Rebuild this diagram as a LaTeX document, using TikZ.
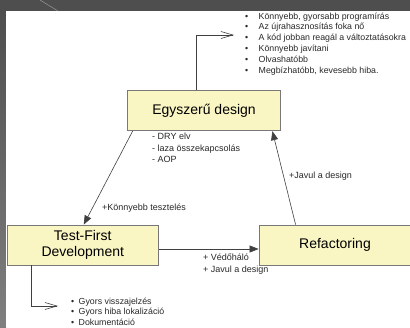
\documentclass[tikz,border=0pt]{standalone}
\usepackage{fontspec}
\setmainfont{Liberation Sans}
\usetikzlibrary{arrows.meta,calc}
\definecolor{boxfill}{RGB}{250,246,196}
\definecolor{boxline}{RGB}{120,120,120}
\definecolor{txt}{RGB}{40,40,40}
\definecolor{frametop}{RGB}{78,78,78}
\tikzset{
  boxnode/.style={draw=boxline, fill=boxfill, line width=0.8pt, inner sep=0pt, align=center, text=black, font=\fontsize{14}{16.5}\selectfont},
  lbl/.style={text=txt, inner sep=0pt, align=left, font=\fontsize{9}{11.5}\selectfont},
  listtxt/.style={text=txt, inner sep=0pt, align=left, font=\fontsize{8.8}{10.8}\selectfont},
  conn/.style={draw=black!75, line width=0.6pt},
  fillarr/.style={conn, -{Triangle[length=9pt,width=7pt]}},
  openarr/.style={conn, -{Straight Barb[length=12pt,width=7pt]}}
}
\begin{document}
\begin{tikzpicture}[x=1pt,y=-1pt]
\useasboundingbox (0,0) rectangle (410,327);
\begin{scope}
\clip (0,0) rectangle (410,327);
% frame
\fill[frametop] (0,0) rectangle (410,11);
\shade[top color=frametop, bottom color=black!50] (0,11) rectangle (6,327);
\fill[white] (6,11) rectangle (410,327);
\draw[black!40, line width=0.5pt] (40,0) -- (58,11);

% boxes
\node[boxnode, minimum width=153pt, minimum height=40.5pt] (ed) at (204,110.5) {Egyszerű design};
\node[boxnode, minimum width=151.5pt, minimum height=40pt] (tfd) at (82.75,245) {Test-First\\Development};
\node[boxnode, minimum width=152pt, minimum height=40pt] (ref) at (335,245) {Refactoring};

% free ends
\coordinate (topend) at (234,35);
\coordinate (botend) at (58,306);

% connectors
\draw[openarr] ($(ed.north)+(-7.5,0)$) |- (topend);
\draw[openarr] ($(tfd.south west)+(25,0)$) |- (botend);
\draw[fillarr] ($(ed.south west)+(5.5,0)$) -- ($(tfd.north)+(1,0)$);
\draw[fillarr] ($(ref.north west)+(37,0)$) -- ($(ed.south east)+(-8.5,0)$);
\draw[fillarr] ($(tfd.east)+(0,4)$) -- ($(ref.west)+(0,4)$);

% labels
\node[lbl, anchor=north west] (dry) at (152,133) {- DRY elv\\- laza összekapcsolás\\- AOP};
\node[lbl] (kt) at (144,208) {+Könnyebb tesztelés};
\node[lbl, anchor=west] (jd) at (289,176) {+Javul a design};
\node[lbl, anchor=north west] (vh) at (203,254) {+ Védőháló\\+ Javul a design};

% lists
\node[listtxt, anchor=north west] (toplist) at (245,12.5) {%
\makebox[13.5pt][l]{•}Könnyebb, gyorsabb programírás\\
\makebox[13.5pt][l]{•}Az újrahasznosítás foka nő\\
\makebox[13.5pt][l]{•}A kód jobban reagál a változtatásokra\\
\makebox[13.5pt][l]{•}Könnyebb javítani\\
\makebox[13.5pt][l]{•}Olvashatóbb\\
\makebox[13.5pt][l]{•}Megbízhatóbb, kevesebb hiba.};
\node[listtxt, anchor=north west] (botlist) at (71,297.5) {%
\makebox[7.5pt][l]{•}Gyors visszajelzés\\
\makebox[7.5pt][l]{•}Gyors hiba lokalizáció\\
\makebox[7.5pt][l]{•}Dokumentáció};
\end{scope}
\end{tikzpicture}
\end{document}
